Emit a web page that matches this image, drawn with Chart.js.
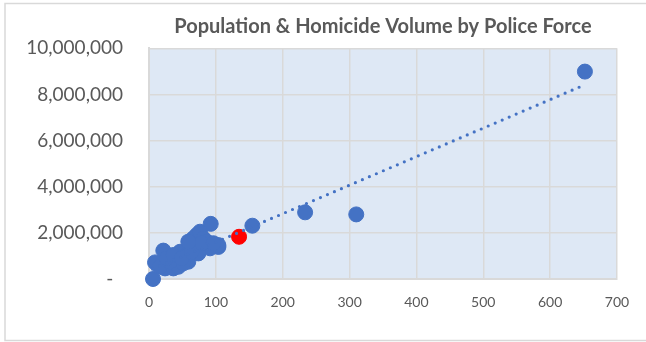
<!DOCTYPE html>
<html lang="en">
<head>
  <meta charset="UTF-8">
  <title>Population & Homicide Volume by Police Force</title>
  <script src="https://cdn.jsdelivr.net/npm/chart.js"></script>
  <style>
    html, body { margin: 0; padding: 0; background: #fff; }
    #wrap { width: 646px; height: 342px; }
  </style>
</head>
<body>
  <div id="wrap"><canvas id="scatter" width="646" height="342"></canvas></div>
  <script>
    // homicides (x) vs population (y), one entry per force
    const homicides = [652, 233.5, 310, 154.6, 92.3, 103.8, 6,
      9, 21.4, 24, 16.5, 36.4, 43.9, 46.4, 41.4, 58.8, 56.4, 61.4, 66.3, 71.4,
      76.3, 81.3, 86.4, 91.3, 103.7, 68.9, 73.8, 51.3, 31.4, 26.5, 36.4, 48.9,
      63.9, 78.9, 58.8, 96.3];
    const population = [8990000, 2890000, 2800000, 2310000, 2390000, 1390000, 0,
      720000, 1230000, 460000, 530000, 460000, 530000, 1180000, 900000, 750000, 1040000, 1470000, 1760000, 1910000,
      2050000, 1760000, 1620000, 1330000, 1470000, 1330000, 1110000, 680000, 750000, 900000, 1040000, 900000,
      1180000, 1550000, 1620000, 1550000];

    // highlighted force
    const highlightX = [134.7];
    const highlightY = [1830000];

    // linear trendline end points
    const trendX = [5.5, 652];
    const trendY = [426000, 8420000];

    const blue = '#4472c4';
    const red = '#ff0000';
    const textGrey = '#595959';
    const gridGrey = '#d9d9d9';

    const toPoints = (xs, ys) => xs.map((x, i) => ({ x: x, y: ys[i] }));

    // plot background + outer chart border
    const frame = {
      id: 'frame',
      beforeDraw(chart) {
        const c = chart.ctx;
        const a = chart.chartArea;
        c.save();
        c.fillStyle = '#dee8f5';
        c.fillRect(a.left, a.top, a.right - a.left, a.bottom - a.top);
        c.strokeStyle = '#d9d9d9';
        c.lineWidth = 1.5;
        c.strokeRect(5, 3.5, 660, 337);
        c.restore();
      }
    };

    const ctx = document.getElementById('scatter').getContext('2d');
    new Chart(ctx, {
      type: 'scatter',
      data: {
        datasets: [
          {
            type: 'line',
            data: toPoints(trendX, trendY),
            borderColor: blue,
            borderWidth: 3.2,
            borderDash: [0, 7.6],
            borderCapStyle: 'round',
            pointRadius: 0,
            fill: false,
            clip: false,
            order: 0
          },
          {
            data: toPoints(highlightX, highlightY),
            backgroundColor: red,
            borderColor: red,
            borderWidth: 1,
            pointRadius: 7.5,
            clip: false,
            order: 1
          },
          {
            data: toPoints(homicides, population),
            backgroundColor: blue,
            borderColor: blue,
            borderWidth: 1,
            pointRadius: 7.5,
            clip: false,
            order: 2
          }
        ]
      },
      options: {
        responsive: false,
        animation: false,
        layout: { padding: { top: 4, right: 29, bottom: 33, left: 0 } },
        plugins: {
          legend: { display: false },
          tooltip: { enabled: false },
          title: {
            display: true,
            fullSize: false,
            text: 'Population & Homicide Volume by Police Force',
            color: textGrey,
            font: { family: 'Lato', size: 20, weight: 'bold' },
            padding: { top: 11, bottom: 9.3 }
          }
        },
        scales: {
          x: {
            type: 'linear',
            min: 0,
            max: 700,
            ticks: {
              stepSize: 100,
              color: textGrey,
              padding: 15,
              font: { family: 'Lato', size: 14 }
            },
            grid: { color: gridGrey, lineWidth: 1.5, drawTicks: false },
            border: { color: gridGrey, width: 2 },
            afterFit(scale) { scale.height = 30; }
          },
          y: {
            min: 0,
            max: 10000000,
            ticks: {
              stepSize: 2000000,
              color: textGrey,
              padding: 26,
              font: { family: 'Lato', size: 19 },
              callback: v => v === 0 ? '-  ' : v.toLocaleString('en-US')
            },
            grid: { color: gridGrey, lineWidth: 1.5, drawTicks: false },
            border: { color: gridGrey, width: 2 },
            afterFit(scale) { scale.width = 149; }
          }
        }
      },
      plugins: [frame]
    });
  </script>
</body>
</html>
